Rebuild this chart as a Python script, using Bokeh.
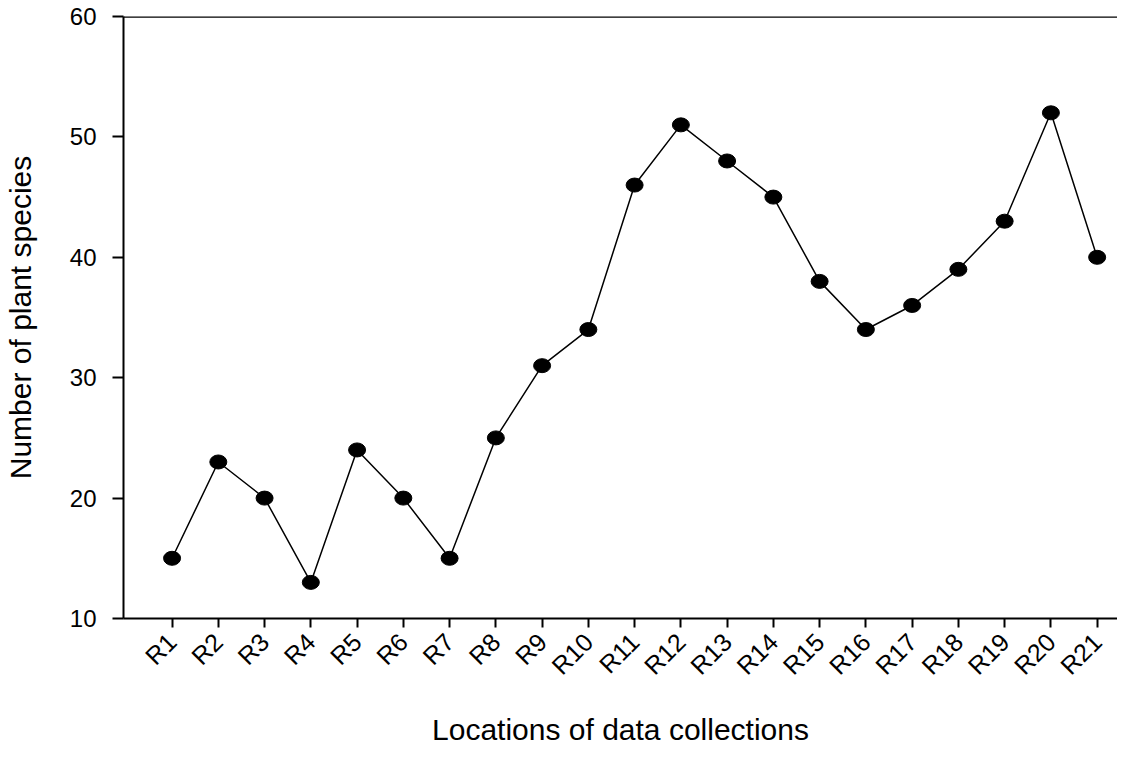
from bokeh.plotting import figure
from bokeh.models import Range1d, FixedTicker, Span
from bokeh.embed import file_html
from bokeh.resources import INLINE
import math

locations = ["R1", "R2", "R3", "R4", "R5", "R6", "R7", "R8", "R9", "R10", "R11",
             "R12", "R13", "R14", "R15", "R16", "R17", "R18", "R19", "R20", "R21"]
species = [15, 23, 20, 13, 24, 20, 15, 25, 31, 34, 46, 51, 48, 45, 38, 34, 36, 39, 43, 52, 40]
y_ticks = [10, 20, 30, 40, 50, 60]

xs = list(range(1, len(locations) + 1))

FONT = "Liberation Sans"

p = figure(width=1117, height=748, output_backend="svg", toolbar_location=None,
           x_range=Range1d(-0.05, 21.44), y_range=Range1d(10, 60),
           min_border_left=120, min_border_top=16, min_border_right=0,
           min_border_bottom=125)
p.outline_line_color = None
p.grid.visible = False
p.background_fill_color = "white"
p.border_fill_color = "white"

p.line(xs, species, line_color="black", line_width=1.5)
p.ellipse(xs, species, width=17, height=14, width_units="screen", height_units="screen",
          fill_color="black", line_color="black")

top = Span(location=60, dimension="width", line_color="black", line_width=2.5)
p.add_layout(top)

xa = p.xaxis[0]
xa.ticker = FixedTicker(ticks=xs)
xa.major_label_overrides = {x: lab for x, lab in zip(xs, locations)}
xa.major_label_orientation = math.pi / 4
xa.major_label_text_font = FONT
xa.major_label_text_font_size = "25px"
xa.major_label_text_color = "black"
xa.major_label_standoff = 10
xa.major_tick_out = 9
xa.major_tick_in = 0
xa.minor_tick_out = 0
xa.minor_tick_in = 0
xa.axis_line_width = 2
xa.major_tick_line_width = 2
xa.axis_label = "Locations of data collections"
xa.axis_label_text_font = FONT
xa.axis_label_text_font_size = "30px"
xa.axis_label_text_font_style = "normal"
xa.axis_label_text_color = "black"
xa.axis_label_standoff = 20

ya = p.yaxis[0]
ya.ticker = FixedTicker(ticks=y_ticks)
ya.major_label_text_font = FONT
ya.major_label_text_font_size = "24px"
ya.major_label_text_color = "black"
ya.major_label_standoff = 16
ya.major_tick_out = 11
ya.major_tick_in = 0
ya.minor_tick_out = 0
ya.minor_tick_in = 0
ya.axis_line_width = 2
ya.major_tick_line_width = 2
ya.axis_label = "Number of plant species"
ya.axis_label_text_font = FONT
ya.axis_label_text_font_size = "30px"
ya.axis_label_text_font_style = "normal"
ya.axis_label_text_color = "black"
ya.axis_label_standoff = 30

open("out.html", "w").write(file_html(p, INLINE))
